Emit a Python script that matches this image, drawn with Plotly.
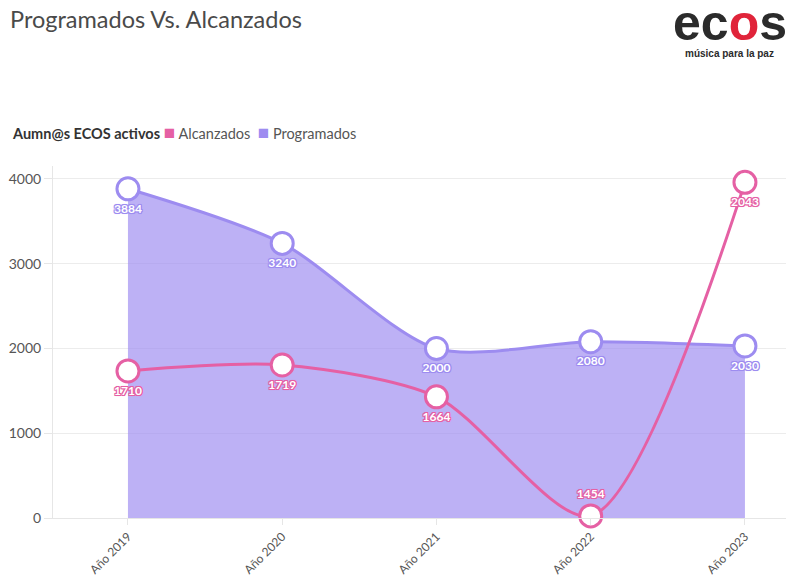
import plotly.graph_objects as go

categories = ["Año 2019", "Año 2020", "Año 2021", "Año 2022", "Año 2023"]
programados = [3884, 3240, 2000, 2080, 2030]
programados_labels = ["3884", "3240", "2000", "2080", "2030"]
alcanzados_pos = [1735, 1805, 1430, 25, 3960]
alcanzados_labels = ["1710", "1719", "1664", "1454", "2043"]
alcanzados_textpos = ["bottom center", "bottom center", "bottom center", "top center", "bottom center"]
y_ticks = [0, 1000, 2000, 3000, 4000]

PURPLE = "#9d8cf0"
FILL = "rgba(157,140,240,0.68)"
PINK = "#e560a4"
FONT = "Lato"

# page body has an 8px default margin; the figure is sized/positioned to compensate
OFF = 8
W, H = 794 - OFF, 577 - OFF
PL, PR, PT, PB = 53, 794, 166, 518  # plot area in window pixels

def px_to_paper_x(px):
    return (px - PL) / (PR - PL)

def px_to_paper_y(py):
    return (PB - py) / (PB - PT)

def outline(c):
    s = []
    for dx in (-1, 0, 1):
        for dy in (-1, 0, 1):
            if dx or dy:
                s.append(f"{dx}px {dy}px 0 {c}")
    s.append(f"0 0 2px {c}")
    return ", ".join(s)

x = list(range(len(categories)))

fig = go.Figure()
fig.add_trace(go.Scatter(
    x=x, y=programados, mode="lines+markers+text", fill="tozeroy",
    fillcolor=FILL, line=dict(color=PURPLE, width=3, shape="spline", smoothing=0.8),
    marker=dict(size=22, color="white", line=dict(color=PURPLE, width=3)),
    text=programados_labels, textposition="bottom center",
    textfont=dict(family=FONT, size=12, color="white", weight="bold", shadow=outline(PURPLE)),
    showlegend=False, cliponaxis=False, hoverinfo="skip"))
fig.add_trace(go.Scatter(
    x=x, y=alcanzados_pos, mode="lines+markers+text",
    line=dict(color=PINK, width=3, shape="spline", smoothing=0.8),
    marker=dict(size=22, color="white", line=dict(color=PINK, width=3)),
    text=alcanzados_labels, textposition=alcanzados_textpos,
    textfont=dict(family=FONT, size=12, color="white", weight="bold", shadow=outline(PINK)),
    showlegend=False, cliponaxis=False, hoverinfo="skip"))

fig.update_layout(
    width=W, height=H,
    margin=dict(l=PL - OFF, r=0, t=PT - OFF, b=577 - PB, autoexpand=False),
    plot_bgcolor="white", paper_bgcolor="white",
    font=dict(family=FONT, color="#555555", size=13),
    showlegend=False,
    title=dict(text="Programados Vs. Alcanzados", x=(10 - OFF) / W, xanchor="left",
               y=1 - (20 - OFF) / H, yanchor="middle",
               font=dict(family=FONT, size=23.5, color="#4a4a4a")),
    xaxis=dict(range=[-0.486, 4.318], tickmode="array", tickvals=x, ticktext=categories,
               tickangle=-45, showgrid=False, showline=True, linecolor="#e6e6e6", linewidth=1,
               ticks="outside", ticklen=6, tickcolor="#e6e6e6", zeroline=False,
               tickfont=dict(size=12, color="#555555")),
    yaxis=dict(range=[0, 4153], tickmode="array", tickvals=y_ticks,
               showgrid=True, gridcolor="#ececec", showline=True, linecolor="#e6e6e6",
               ticks="outside", ticklen=8, tickcolor="#e6e6e6", zeroline=False,
               tickfont=dict(size=14, color="#555555")),
)

# legend drawn as a single text line
sw = "font-size:19px"
legend_text = ("<b style='color:#333333'>Aumn@s ECOS activos</b>&nbsp;"
               f"<span style='color:{PINK};{sw}'>■</span>&nbsp;Alcanzados&nbsp;&nbsp;"
               f"<span style='color:{PURPLE};{sw}'>■</span>&nbsp;Programados")
fig.add_annotation(xref="paper", yref="paper", x=px_to_paper_x(10), y=px_to_paper_y(131),
                   text=legend_text, showarrow=False, xanchor="left", yanchor="middle",
                   font=dict(family=FONT, size=14.5, color="#555555"))

# logo
fig.add_annotation(xref="paper", yref="paper", x=px_to_paper_x(730), y=px_to_paper_y(23),
                   text="<b>ec<span style='color:#e0243a'>o</span>s</b>", showarrow=False,
                   font=dict(family="Liberation Sans", size=50, color="#2b2b2b"),
                   xanchor="center", yanchor="middle")
fig.add_annotation(xref="paper", yref="paper", x=px_to_paper_x(729), y=px_to_paper_y(53),
                   text="<b>música para la paz</b>", showarrow=False,
                   font=dict(family="Liberation Sans", size=10, color="#2b2b2b"),
                   xanchor="center", yanchor="middle")

fig.write_html("out.html")
